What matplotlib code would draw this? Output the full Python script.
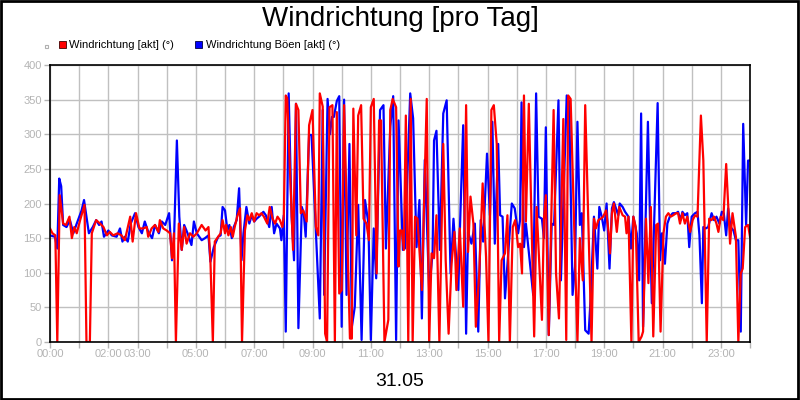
import matplotlib
matplotlib.use("Agg")
import matplotlib.pyplot as plt
from matplotlib.patches import Rectangle

plt.rcParams['font.family'] = ['Liberation Sans', 'DejaVu Sans']

# minutes since 00:00 and direction in degrees
red_t = [0, 5, 11, 15, 20, 27, 33, 40, 45, 50, 55, 62, 71, 75, 82, 86, 95, 103, 110, 117,
         123, 130, 139, 147, 154, 165, 170, 177, 184, 192, 199, 202, 209, 216, 223, 226, 233, 240, 247, 251,
         255, 259, 265, 271, 276, 281, 288, 295, 302, 312, 320, 326, 330, 335, 339, 346,
         351, 355, 360, 362, 367, 372, 376, 380, 385, 391, 395, 401, 406, 410, 415, 420, 425, 430, 435, 440,
         447, 452, 458, 463, 468, 473, 478, 481, 485, 488, 500, 506, 511, 516, 521, 528, 533, 540, 547, 552, 555,
         561, 566, 570, 575, 581, 586, 590, 595, 600, 605, 617, 621, 624, 630, 634, 640, 645, 651, 656, 660,
         666, 672, 677, 681, 688, 696, 700, 705, 712, 717, 720, 724, 728, 732, 737, 742, 746, 751, 756, 765,
         775, 780, 785, 790, 795, 801, 809, 814, 820, 826, 832, 836, 843, 850, 856, 860, 865, 871, 876, 883,
         890, 897, 902, 908, 913, 919, 924, 929, 936, 941, 946, 952, 957, 963, 967, 971, 975,
         979, 985, 996, 1001, 1012, 1016, 1020, 1026, 1036, 1041, 1047, 1056, 1062, 1066, 1071, 1085, 1090, 1096,
         1101, 1114, 1119, 1123, 1128, 1133, 1138, 1144, 1149, 1152, 1156, 1160, 1166, 1171,
         1178, 1183, 1186, 1190, 1196, 1200, 1205, 1211, 1217, 1220, 1226, 1231, 1236, 1241, 1247, 1251, 1256,
         1262, 1267, 1272, 1277, 1282, 1288, 1292, 1296, 1301, 1306, 1311, 1317, 1322, 1327, 1332, 1339, 1344,
         1351, 1356, 1361, 1366, 1371, 1375, 1380, 1385, 1391, 1395, 1399, 1404, 1411, 1416, 1421, 1425, 1430,
         1436, 1440]
red_v = [164, 157, 154, 0, 212, 171, 169, 181, 150, 166, 157, 176, 198, 0, 0, 157, 176, 171, 166, 154,
         159, 154, 157, 154, 147, 181, 145, 186, 164, 164, 166, 152, 164, 169, 159, 176, 164, 161, 157, 121,
         157, 0, 171, 133, 166, 142, 157, 152, 157, 169, 161, 166, 118, 0, 145, 152,
         157, 176, 157, 169, 154, 166, 152, 166, 181, 193, 0, 161, 183, 176, 186, 174, 186, 183, 186, 181,
         171, 195, 178, 171, 181, 176, 166, 181, 356, 352, 133, 344, 335, 186, 190, 174, 313, 335, 166, 154, 359,
         340, 12, 0, 339, 342, 0, 332, 70, 75, 342, 5, 5, 337, 154, 327, 342, 178, 171, 147, 339,
         351, 99, 320, 320, 0, 32, 335, 351, 339, 109, 161, 161, 133, 327, 0, 351, 0, 181, 178, 75,
         351, 0, 128, 121, 183, 0, 286, 118, 12, 113, 159, 75, 164, 51, 342, 130, 210, 171, 22, 99,
         229, 123, 0, 335, 342, 286, 0, 118, 128, 183, 0, 166, 176, 137, 142, 99, 356,
         174, 344, 8, 195, 32, 176, 212, 10, 335, 99, 34, 322, 3, 356, 351, 0, 150, 89,
         342, 0, 178, 164, 176, 178, 181, 190, 159, 128, 186, 200, 159, 195,
         183, 181, 157, 181, 0, 181, 166, 0, 8, 15, 178, 85, 195, 8, 169, 171, 15,
         157, 181, 186, 181, 183, 186, 186, 171, 186, 171, 181, 159, 176, 183, 181, 327, 262,
         0, 178, 176, 181, 171, 159, 181, 176, 257, 200, 142, 186, 152, 0, 99, 106, 166,
         169, 152]

blue_t = [0, 10, 15, 19, 23, 27, 34, 41, 48, 55, 65, 70, 75, 80, 88, 95, 101, 106, 111, 120,
          127, 137, 144, 149, 154, 160, 166, 175, 182, 189, 195, 202, 210, 216, 224, 230, 237, 245, 251, 255,
          261, 266, 271, 276, 283, 291, 296, 302, 312, 319, 326, 330, 337, 346,
          351, 355, 360, 365, 369, 374, 378, 384, 389, 394, 398, 404, 410, 415, 420, 425, 430, 439, 444, 451,
          456, 461, 466, 473, 476, 481, 485, 491, 497, 502, 506, 511, 518, 522, 526, 533, 538, 555,
          561, 564, 571, 576, 580, 584, 590, 595, 600, 605, 610, 616, 621, 627, 634, 641, 648, 655, 660, 666,
          671, 679, 686, 691, 700, 706, 712, 717, 726, 730, 741, 747, 754, 760, 765, 771,
          780, 787, 790, 795, 802, 809, 816, 824, 830, 840, 843, 850, 856, 860, 867, 874, 881, 886, 891, 899,
          905, 910, 915, 922, 926, 931, 936, 950, 956, 963, 967, 970,
          975, 979, 994, 1000, 1005, 1012, 1016, 1020, 1026, 1032, 1037, 1046, 1051, 1063, 1068, 1075, 1080, 1085,
          1090, 1094, 1101, 1108, 1112, 1119, 1126, 1130, 1135, 1140, 1145, 1151, 1156, 1160, 1169,
          1172, 1178, 1183, 1190, 1195, 1200, 1207, 1212, 1216, 1220, 1230, 1238, 1250, 1255, 1259, 1265, 1270,
          1275, 1281, 1288, 1292, 1297, 1301, 1306, 1311, 1315, 1320, 1327, 1332, 1336, 1341, 1344, 1349, 1354,
          1361, 1366, 1371, 1377, 1382, 1386, 1391, 1395, 1400, 1406, 1411, 1416, 1421, 1426, 1432, 1436, 1440]
blue_v = [154, 152, 135, 236, 225, 169, 166, 176, 157, 171, 190, 205, 181, 157, 166, 176, 169, 174, 152, 161,
          154, 152, 164, 145, 152, 145, 171, 186, 166, 157, 174, 159, 150, 169, 157, 174, 169, 186, 118, 145,
          291, 181, 133, 169, 157, 140, 174, 157, 147, 150, 154, 116, 137, 152,
          154, 195, 190, 161, 169, 150, 166, 176, 222, 118, 157, 195, 171, 183, 174, 178, 181, 188, 183, 166,
          195, 157, 171, 164, 147, 183, 15, 359, 181, 118, 344, 20, 195, 186, 152, 299, 299, 34,
          335, 68, 351, 300, 325, 325, 348, 355, 22, 350, 68, 286, 22, 51, 198, 3, 205, 171, 3, 164,
          92, 335, 342, 135, 311, 355, 3, 320, 133, 135, 359, 323, 137, 205, 34, 263,
          75, 128, 291, 305, 133, 330, 349, 99, 178, 75, 157, 313, 12, 159, 142, 171, 15, 176, 145, 272,
          183, 318, 142, 286, 183, 181, 63, 200, 193, 157, 176, 346,
          137, 171, 68, 359, 181, 178, 150, 310, 10, 171, 169, 349, 89, 356, 347, 68, 109, 318,
          169, 186, 17, 12, 61, 181, 106, 195, 181, 161, 200, 106, 193, 202, 183,
          200, 195, 188, 181, 135, 181, 157, 89, 330, 22, 318, 56, 345, 118, 157, 113, 171,
          181, 186, 186, 188, 176, 188, 183, 186, 137, 181, 186, 188, 154, 56, 166, 164, 166,
          186, 176, 181, 171, 188, 186, 154, 193, 166, 161, 147, 147, 15, 315, 169, 262, 262]

tick_hours = [0, 2, 3, 5, 7, 9, 11, 13, 15, 17, 19, 21, 23]
tick_labels = ["00:00", "02:00", "03:00", "05:00", "07:00", "09:00", "11:00",
               "13:00", "15:00", "17:00", "19:00", "21:00", "23:00"]

fig = plt.figure(figsize=(8, 4), dpi=100)
ax = fig.add_axes([50 / 800, 58 / 400, 700 / 800, 277 / 400])

ax.plot(blue_t, blue_v, color="#0000ff", lw=1.6, zorder=3)
ax.plot(red_t, red_v, color="#ff0000", lw=1.6, zorder=4)

ax.set_xlim(0, 1440)
ax.set_ylim(0, 400)
ax.set_yticks(range(0, 401, 50))
ax.set_xticks(range(0, 1441, 60), minor=False)
ax.set_xticklabels(["" for _ in range(25)])
for h, lab in zip(tick_hours, tick_labels):
    ax.text(h * 60, -17.5, lab, ha="center", va="center", fontsize=8,
            color="#b4b4b4", transform=ax.transData, clip_on=False)
ax.grid(True, color="#c0c0c0", lw=1, zorder=1)
ax.tick_params(axis="both", colors="#b4b4b4", labelsize=8, length=4, width=1)
ax.tick_params(axis="y", labelcolor="#b4b4b4", pad=2)
for s in ax.spines.values():
    s.set_color("black")
    s.set_linewidth(1.2)
    s.set_zorder(5)

fig.text(0.5, 1 - 19 / 400, "Windrichtung [pro Tag]", ha="center", va="center", fontsize=20)
fig.text(0.5, 1 - 381 / 400, "31.05", ha="center", va="center", fontsize=14)

# legend row
fig.add_artist(Rectangle((45 / 800, 1 - 47.5 / 400), 2.7 / 800, 2.5 / 400,
                         transform=fig.transFigure, facecolor="white", edgecolor="#b0b0b0", lw=0.8))
fig.add_artist(Rectangle((58.5 / 800, 1 - 47.7 / 400), 7 / 800, 7 / 400,
                         transform=fig.transFigure, facecolor="#ff0000", edgecolor="#400000", lw=0.6))
fig.text(69 / 800, 1 - 44.5 / 400, "Windrichtung [akt] (°)", ha="left", va="center", fontsize=8)
fig.add_artist(Rectangle((195 / 800, 1 - 47.7 / 400), 7 / 800, 7 / 400,
                         transform=fig.transFigure, facecolor="#0000ff", edgecolor="#000040", lw=0.6))
fig.text(205.5 / 800, 1 - 44.5 / 400, "Windrichtung Böen [akt] (°)", ha="left", va="center", fontsize=8)

# outer frame
fig.add_artist(Rectangle((0.001, 0.002), 0.997, 0.995, transform=fig.transFigure,
                         fill=False, edgecolor="black", lw=2))

fig.savefig("out.png", dpi=100)
